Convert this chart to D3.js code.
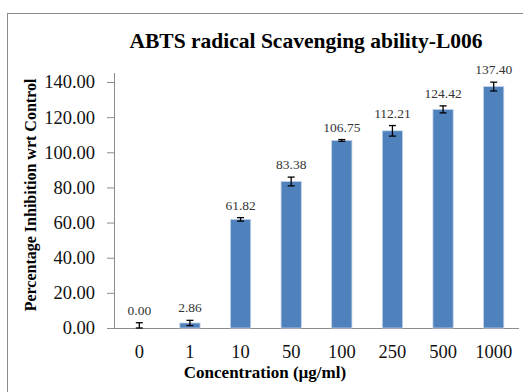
<!DOCTYPE html>
<html>
<head>
<meta charset="utf-8">
<script src="https://cdn.jsdelivr.net/npm/d3@7"></script>
<style>
  body { margin: 0; background: #fff; }
  text { font-family: "Liberation Serif", "Times New Roman", serif; }
</style>
</head>
<body>
<svg></svg>
<script>
// data
var concentrations = ["0", "1", "10", "50", "100", "250", "500", "1000"]
var inhibition = [0.00, 2.86, 61.82, 83.38, 106.75, 112.21, 124.42, 137.40]
var errors = [3.0, 1.5, 1.0, 2.5, 0.5, 3.0, 2.0, 2.5]
var yTicks = [0, 20, 40, 60, 80, 100, 120, 140]

var screen = {width:523, height:392}
var margins = {top:82, right:4, bottom:64, left:114}

var svg = d3.select("svg")
    .attr("width", screen.width)
    .attr("height", screen.height)

// chart area border
svg.append("rect")
    .attr("x", 7.5).attr("y", 13.5)
    .attr("width", 530).attr("height", 400)
    .attr("fill", "none")
    .attr("stroke", "#8c8c8c")
    .attr("stroke-width", 1)

var height = screen.height - margins.top - margins.bottom   // 246

var xScale = d3.scaleBand()
    .domain(concentrations)
    .range([margins.left, 519])
    .paddingInner(0.6)
    .paddingOuter(0.3)

var yScale = d3.scaleLinear()
    .domain([0, 140])
    .range([margins.top + height, margins.top])

// title
svg.append("text")
    .attr("x", 306).attr("y", 48)
    .attr("text-anchor", "middle")
    .attr("font-size", 21.5)
    .attr("font-weight", "bold")
    .text("ABTS radical Scavenging ability-L006")

// y axis
var yAxis = d3.axisLeft(yScale)
    .tickValues(yTicks)
    .tickFormat(d3.format(".2f"))
    .tickSize(7)
    .tickPadding(12)

var yG = svg.append("g")
    .attr("transform", "translate(" + margins.left + ",0)")
    .call(yAxis)
yG.select(".domain").attr("d", "M0.5," + (margins.top - 9) + "V" + (margins.top + height + 0.5))
yG.selectAll("path, line").attr("stroke", "#8c8c8c")
yG.selectAll("text").attr("font-size", 18.5).attr("fill", "#111")
    .attr("font-family", "Liberation Serif, serif")

// x axis
var xAxis = d3.axisBottom(xScale).tickSize(0).tickPadding(17)
var xG = svg.append("g")
    .attr("transform", "translate(0," + (margins.top + height) + ")")
    .call(xAxis)
xG.select(".domain").attr("d", "M" + margins.left + ",0.5H519").attr("stroke", "#8c8c8c")
xG.selectAll("text").attr("font-size", 18.5).attr("fill", "#111")
    .attr("font-family", "Liberation Serif, serif")

// axis titles
svg.append("text")
    .attr("transform", "translate(35.5,195) rotate(-90)")
    .attr("text-anchor", "middle")
    .attr("font-size", 16)
    .attr("font-weight", "bold")
    .text("Percentage Inhibition wrt Control")

svg.append("text")
    .attr("x", 265).attr("y", 378)
    .attr("text-anchor", "middle")
    .attr("font-size", 17)
    .attr("font-weight", "bold")
    .text("Concentration (µg/ml)")

// bars
svg.append("g")
    .selectAll("rect")
    .data(inhibition)
    .enter()
    .append("rect")
    .attr("x", function(d, i) { return xScale(concentrations[i]) })
    .attr("y", function(d) { return yScale(d) })
    .attr("width", xScale.bandwidth())
    .attr("height", function(d) { return yScale(0) - yScale(d) })
    .attr("fill", "#4f81bd")
    .attr("stroke", "#c4d3e8")
    .attr("stroke-width", 0.8)

// error bars
var cx = function(i) { return xScale(concentrations[i]) + xScale.bandwidth() / 2 }
var eg = svg.append("g").attr("stroke", "#000").attr("stroke-width", 1.3)
inhibition.forEach(function(d, i) {
    var top = yScale(d + errors[i])
    var bot = yScale(Math.max(0, d - errors[i]))
    eg.append("line").attr("x1", cx(i)).attr("x2", cx(i)).attr("y1", top).attr("y2", bot)
    eg.append("line").attr("x1", cx(i) - 3.5).attr("x2", cx(i) + 3.5).attr("y1", top).attr("y2", top)
    eg.append("line").attr("x1", cx(i) - 3.5).attr("x2", cx(i) + 3.5).attr("y1", bot).attr("y2", bot)
})

// value labels
svg.append("g")
    .selectAll("text")
    .data(inhibition)
    .enter()
    .append("text")
    .attr("x", function(d, i) { return cx(i) })
    .attr("y", function(d, i) { return yScale(d + errors[i]) - 8 })
    .attr("text-anchor", "middle")
    .attr("font-size", 13.5)
    .attr("fill", "#333")
    .text(function(d) { return d3.format(".2f")(d) })
</script>
</body>
</html>
